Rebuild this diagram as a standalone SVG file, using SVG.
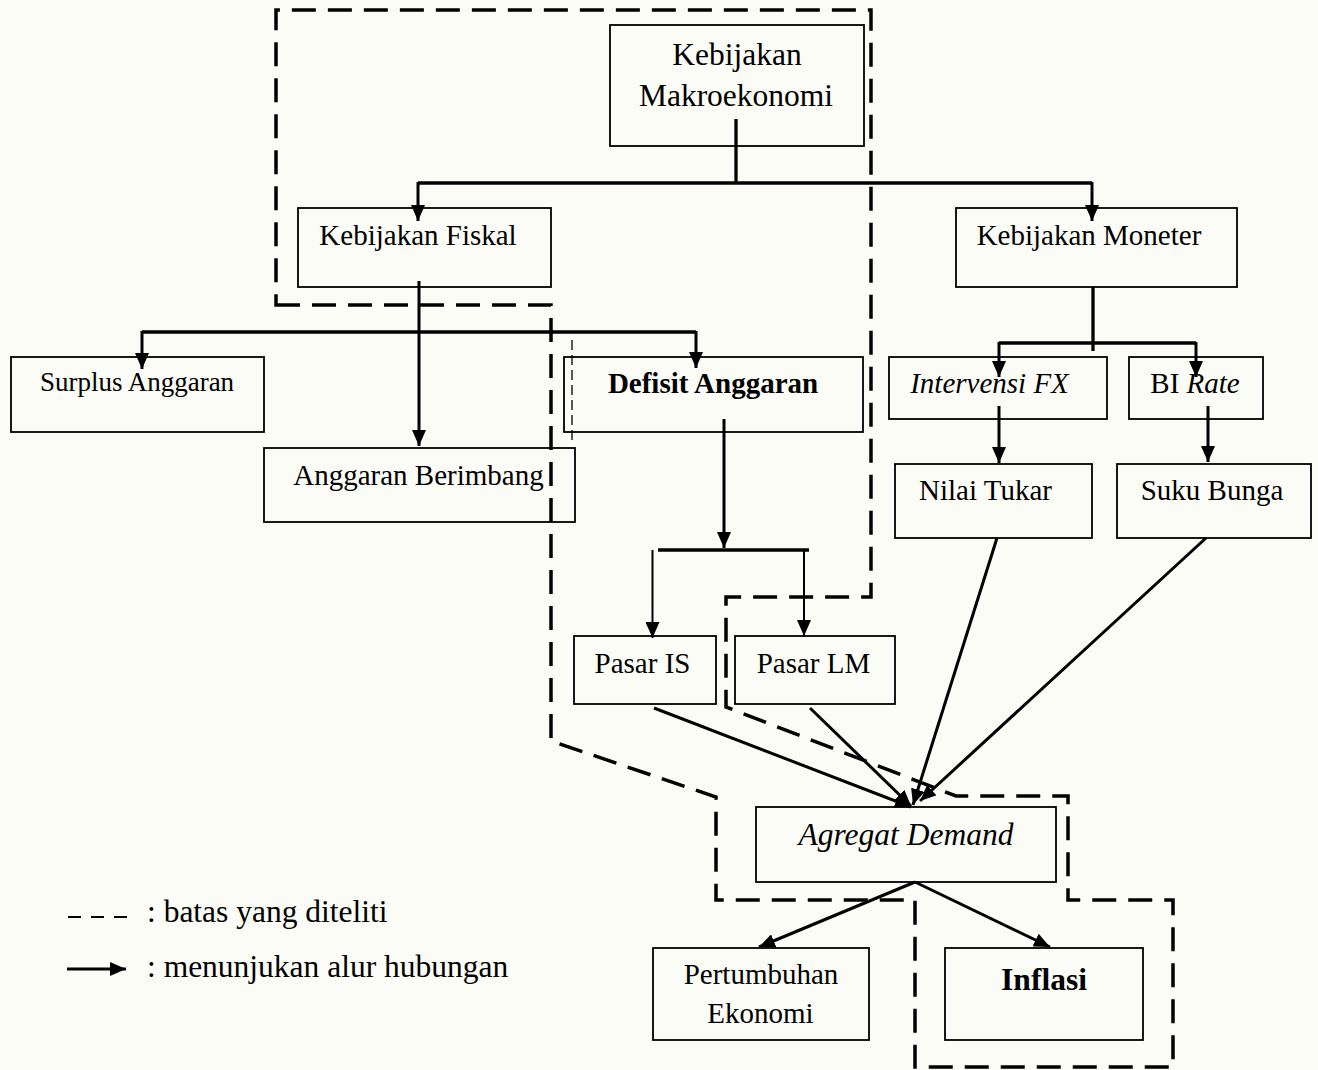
<svg xmlns="http://www.w3.org/2000/svg" width="1318" height="1070" viewBox="0 0 1318 1070">
<defs>
<marker id="ah" markerUnits="userSpaceOnUse" markerWidth="16" markerHeight="14" refX="16" refY="7" orient="auto">
<path d="M0,0 L16,7 L0,14 z" fill="#000"/>
</marker>
<style>
.box{fill:none;stroke:#000;stroke-width:1.8}
.t{font-family:"Liberation Serif","Times New Roman",serif;font-size:29px;fill:#000;text-anchor:middle}
.big{font-size:31.5px}
.b{font-weight:bold}
.i{font-style:italic}
.ln{fill:none;stroke:#000;stroke-width:3.3}
.th{fill:none;stroke:#000;stroke-width:2}
.ar{fill:none;stroke:#000;stroke-width:3;marker-end:url(#ah)}
.art{fill:none;stroke:#000;stroke-width:2;marker-end:url(#ah)}
.dash{fill:none;stroke:#000;stroke-width:3.5;stroke-dasharray:24 12}
</style>
</defs>
<rect width="1318" height="1070" fill="#fcfcf7"/>

<g id="boundary">
<path class="dash" d="M276,305 L551,305 L551,741 L716,797 L716,900 L915,900 L915,1067 L1173,1067 L1173,900 L1068,900 L1068,796 L956,796 L726,707 L726,597 L871,597 L871,10 L276,10 Z"/>
<line x1="572" y1="340" x2="572" y2="444" stroke="#000" stroke-width="1.3" stroke-dasharray="10 5"/>
</g>

<g id="connectors">
<polyline class="ln" points="736,119 736,183"/>
<polyline class="ln" points="418,183 1092,183"/>
<line class="ar" x1="418" y1="182" x2="418" y2="221"/>
<line class="ar" x1="1092" y1="182" x2="1092" y2="221"/>
<line class="ar" x1="419" y1="281" x2="419" y2="446"/>
<polyline class="ln" points="142,332 696,332"/>
<line class="ar" x1="142" y1="331" x2="142" y2="369"/>
<line class="ar" x1="696" y1="331" x2="696" y2="368"/>
<polyline class="ln" points="1093,287 1093,351"/>
<polyline class="ln" points="999,343 1196,343"/>
<line class="ar" x1="999" y1="342" x2="999" y2="377"/>
<line class="ar" x1="1196" y1="342" x2="1196" y2="377"/>
<line class="ar" x1="999" y1="406" x2="999" y2="463"/>
<line class="ar" x1="1208" y1="406" x2="1208" y2="462"/>
<line class="ar" x1="724" y1="419" x2="724" y2="548"/>
<polyline class="ln" points="658,550 809,550"/>
<line class="art" x1="652.5" y1="550" x2="652.5" y2="638"/>
<line class="art" x1="804" y1="550" x2="804" y2="636"/>
<line class="ar" x1="654" y1="708" x2="911" y2="807"/>
<line class="ar" x1="810" y1="708" x2="911" y2="806"/>
<line class="ar" x1="997" y1="538" x2="913" y2="805"/>
<line class="ar" x1="1206" y1="538" x2="920" y2="801"/>
<line class="ar" x1="915" y1="882" x2="759" y2="947"/>
<line class="ar" x1="915" y1="882" x2="1050" y2="947"/>
</g>

<g id="n-makro">
<rect class="box" x="610" y="25" width="254" height="121"/>
<text class="t big" x="737" y="65">Kebijakan</text>
<text class="t big" x="736" y="106">Makroekonomi</text>
</g>
<g id="n-fiskal">
<rect class="box" x="298" y="208" width="253" height="79"/>
<text class="t" x="418" y="245">Kebijakan Fiskal</text>
</g>
<g id="n-moneter">
<rect class="box" x="956" y="208" width="281" height="79"/>
<text class="t" x="1089" y="245">Kebijakan Moneter</text>
</g>
<g id="n-surplus">
<rect class="box" x="11" y="357" width="253" height="75"/>
<text class="t" style="font-size:27px" x="137" y="391">Surplus Anggaran</text>
</g>
<g id="n-berimbang">
<rect class="box" x="264" y="448" width="311" height="74"/>
<text class="t" x="418.5" y="485">Anggaran Berimbang</text>
</g>
<g id="n-defisit">
<rect class="box" x="564" y="357" width="299" height="75"/>
<text class="t b" x="713" y="393">Defisit Anggaran</text>
</g>
<g id="n-intervensi">
<rect class="box" x="889" y="357" width="218" height="62"/>
<text class="t i" x="989.5" y="393">Intervensi FX</text>
</g>
<g id="n-birate">
<rect class="box" x="1129" y="357" width="134" height="62"/>
<text class="t" x="1195" y="393">BI <tspan class="i">Rate</tspan></text>
</g>
<g id="n-nilaitukar">
<rect class="box" x="895" y="464" width="197" height="74"/>
<text class="t" x="985.5" y="500">Nilai Tukar</text>
</g>
<g id="n-sukubunga">
<rect class="box" x="1117" y="464" width="194" height="74"/>
<text class="t" x="1212" y="500">Suku Bunga</text>
</g>
<g id="n-pasaris">
<rect class="box" x="574" y="636" width="142" height="68"/>
<text class="t" x="642.5" y="673">Pasar IS</text>
</g>
<g id="n-pasarlm">
<rect class="box" x="735" y="636" width="160" height="68"/>
<text class="t" x="813.5" y="673">Pasar LM</text>
</g>
<g id="n-ad">
<rect class="box" x="756" y="807" width="300" height="75"/>
<text class="t i big" x="906" y="845">Agregat Demand</text>
</g>
<g id="n-pertumbuhan">
<rect class="box" x="653" y="948" width="216" height="92"/>
<text class="t" x="761" y="984">Pertumbuhan</text>
<text class="t" x="760.5" y="1023">Ekonomi</text>
</g>
<g id="n-inflasi">
<rect class="box" x="945" y="948" width="198" height="92"/>
<text class="t b big" x="1044" y="990">Inflasi</text>
</g>

<g id="legend">
<line x1="68" y1="917" x2="128" y2="917" stroke="#000" stroke-width="2" stroke-dasharray="13 10"/>
<text class="t big" style="text-anchor:start" x="147" y="922">: batas yang diteliti</text>
<line class="ar" x1="67" y1="969" x2="126" y2="969"/>
<text class="t big" style="text-anchor:start" x="147" y="977">: menunjukan alur hubungan</text>
</g>
</svg>
